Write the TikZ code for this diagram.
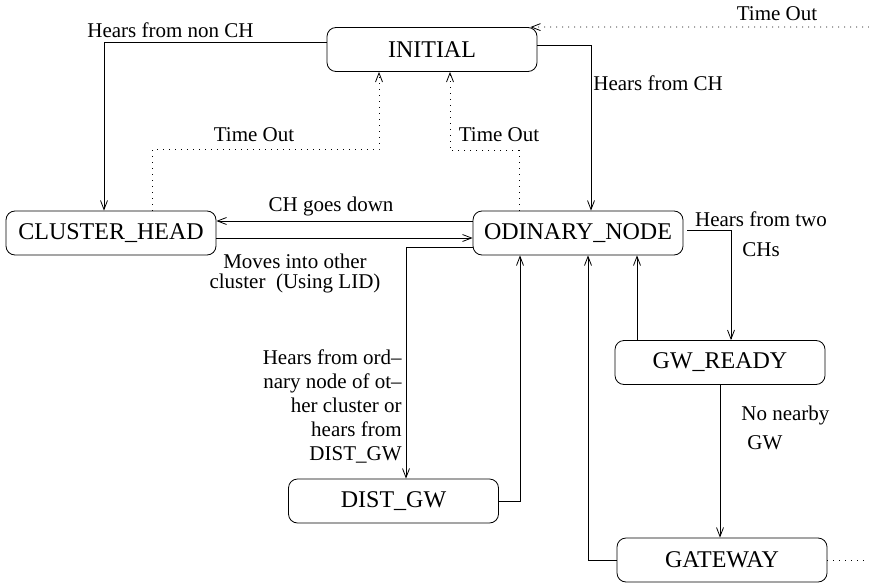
\documentclass[tikz,border=0pt]{standalone}
\usepackage{fontspec}
\setmainfont{Liberation Serif}
\usetikzlibrary{arrows.meta}

\begin{document}
\begin{tikzpicture}[x=1pt, y=-1pt, line width=0.8pt,
  >={Straight Barb[length=9pt,width=7pt]},
  state/.style={draw, rounded corners=9pt, minimum width=210pt,
    minimum height=44pt, inner sep=0pt, font=\fontsize{24}{28}\selectfont},
  lbl/.style={inner sep=0pt, font=\fontsize{21}{24}\selectfont},
  timeout/.style={dash pattern=on 1pt off 5pt}]

  \useasboundingbox (0,0) rectangle (869,583);

  % States
  \node[state] (init)    at (432,49.5) {INITIAL};
  \node[state] (clhead)  at (111,233)  {CLUSTER\_HEAD};
  \node[state] (ordnode) at (578,233)  {ODINARY\_NODE};
  \node[state] (gwready) at (720,362.5) {GW\_READY};
  \node[state] (distgw)  at (393.5,501) {DIST\_GW};
  \node[state] (gateway) at (722,560)  {GATEWAY};

  % Free ends of the time out lines
  \coordinate (toin)  at (869,27);
  \coordinate (gwout) at (869,560);

  % Transitions out of INITIAL
  \draw[->] ([yshift=7.5pt]init.west) -| ([xshift=-7pt]clhead.north);
  \draw[->] ([yshift=4.5pt]init.east) -| ([xshift=13pt]ordnode.north);
  \node[lbl, anchor=west] (lnonch) at (87,30) {Hears from non CH};
  \node[lbl, anchor=west] (lfromch) at (593,83) {Hears from CH};

  % Time outs (dotted)
  \draw[timeout,->] (toin) -- ([xshift=-7pt]init.north east);
  \draw[timeout,->] ([xshift=41pt]clhead.north) -- ++(0,-61)
    -| ([xshift=-53pt]init.south);
  \draw[timeout,->] ([xshift=-59pt]ordnode.north) -- ++(0,-60)
    -| ([xshift=18pt]init.south);
  \draw[timeout] (gateway.east) -- (gwout);
  \node[lbl] (ltotop) at (777,14)  {Time Out};
  \node[lbl] (ltoch)  at (254,135) {Time Out};
  \node[lbl] (ltoon)  at (499,135) {Time Out};

  % CLUSTER_HEAD <-> ODINARY_NODE
  \draw[->] ([yshift=12pt]ordnode.west) -- ([yshift=12pt]clhead.east);
  \draw[->] ([yshift=-5pt]clhead.east) -- ([yshift=-5pt]ordnode.west);
  \node[lbl] (ldown) at (331,206) {CH goes down};
  \node[lbl, align=center, font=\fontsize{21}{20}\selectfont] (lmoves)
    at (295,273) {Moves into other\\cluster~~(Using LID)};

  % DIST_GW
  \draw[->] ([yshift=-14pt]ordnode.west) -| ([xshift=12.5pt]distgw.north);
  \draw[->] (distgw.east) -| ([xshift=-58pt]ordnode.south);
  \node[lbl, align=right, anchor=east] (lord) at (402,406)
    {Hears from ord--\\nary node of ot--\\her cluster or\\hears from\\DIST\_GW};

  % GW_READY and GATEWAY
  \draw[->] ([xshift=4pt,yshift=3pt]ordnode.east) -| ([xshift=11pt]gwready.north);
  \draw[->] ([xshift=-83pt]gwready.north) -- ([xshift=-83pt]gwready.north |- ordnode.south);
  \draw[->] (gwready.south) -- (gwready.south |- gateway.north);
  \draw[->] (gateway.west) -| ([xshift=10pt]ordnode.south);
  \node[lbl, align=center, font=\fontsize{21}{30}\selectfont] (ltwo)
    at (761,234) {Hears from two\\CHs};
  \node[lbl, align=left, anchor=west, font=\fontsize{21}{29}\selectfont] (lnogw)
    at (741,427.5) {No nearby\\\hspace{6pt}GW};

\end{tikzpicture}
\end{document}
